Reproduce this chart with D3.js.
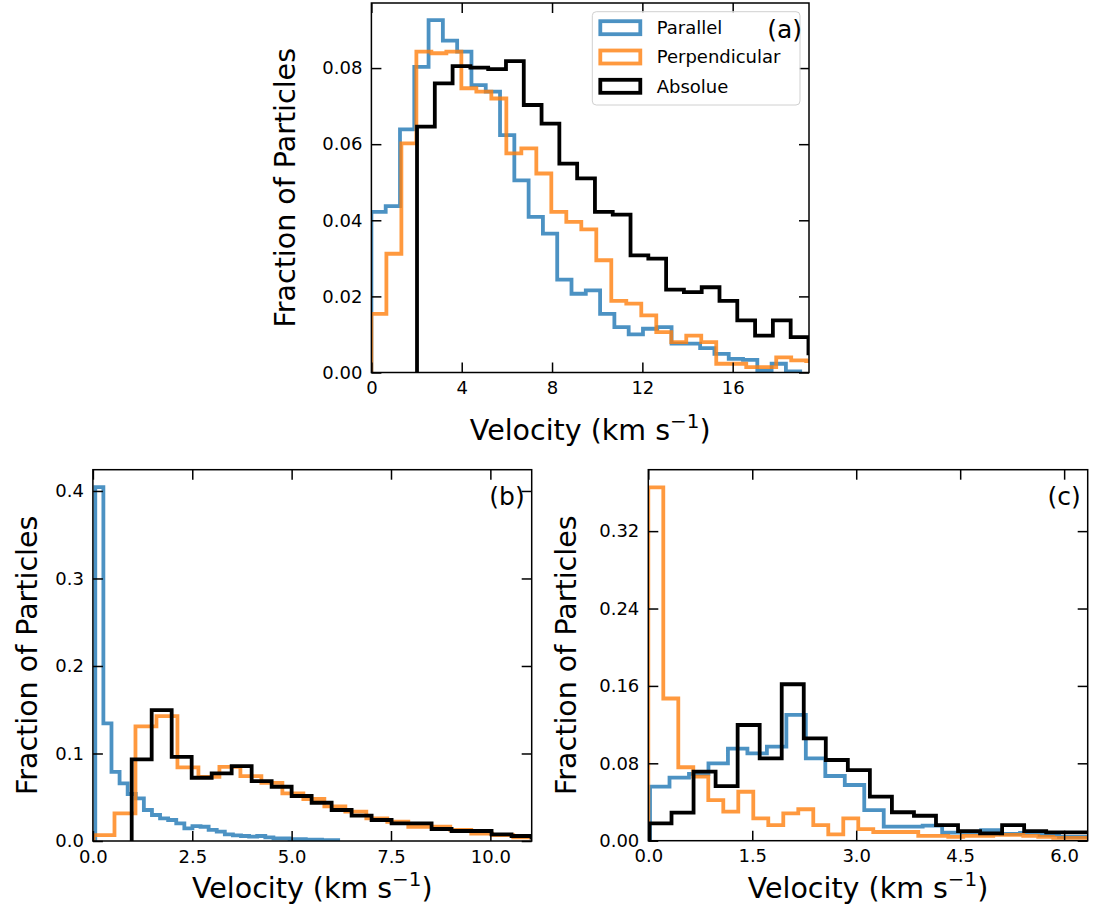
<!DOCTYPE html>
<html>
<head>
<meta charset="utf-8">
<script src="https://cdn.jsdelivr.net/npm/d3@7"></script>
<style>
  body { margin: 0; background: #fff; }
  svg { display: block; }
  text { font-family: "DejaVu Sans", sans-serif; fill: #000; }
</style>
</head>
<body>
<svg id="chart" width="1095" height="917"></svg>
<script>
// ---------------- data ----------------
// Each histogram: first bin edge, bin width (km/s), fraction of particles per bin.

// (a)
const aParallelStart = 0.0,  aParallelWidth = 0.633;
const aParallel = [0.0422,0.0437,0.0639,0.0803,0.0926,0.0872,0.0843,0.0755,0.0738,0.0624,
                   0.0505,0.0409,0.0365,0.0244,0.0207,0.0216,0.0154,0.0119,0.0100,0.0115,
                   0.0119,0.0076,0.0076,0.0064,0.0049,0.0036,0.0033,0.0005,0.0023,0.0003];
const aPerpStart = 0.0, aPerpWidth = 0.664;
const aPerp = [0.0154,0.0312,0.0602,0.0843,0.0839,0.0843,0.0747,0.0738,0.0720,0.0576,
               0.0589,0.0523,0.0422,0.0396,0.0376,0.0295,0.0188,0.0181,0.0150,0.0106,
               0.0080,0.0097,0.0080,0.0023,0.0023,0.0014,0.0014,0.0040,0.0032,0.0030];
const aAbsStart = 2.02, aAbsWidth = 0.788;
const aAbs = [0.0646,0.0760,0.0805,0.0801,0.0797,0.0818,0.0703,0.0654,0.0549,0.0510,
              0.0422,0.0415,0.0308,0.0299,0.0218,0.0211,0.0224,0.0188,0.0137,0.0097,
              0.0137,0.0093,0.0050];

// (b)
const bParallelStart = 0.06, bParallelWidth = 0.2037;
const bParallel = [0.4045,0.1344,0.0791,0.0659,0.0537,0.0487,0.0354,0.0297,0.0259,0.0240,
                   0.0202,0.0145,0.0171,0.0163,0.0126,0.0106,0.0076,0.0065,0.0057,0.0049,
                   0.0057,0.0042,0.0030,0.0030,0.0020,0.0020,0.0015,0.0015,0.0010,0.0010];
const bPerpStart = 0.015, bPerpWidth = 0.528;
const bPerp = [0.0068,0.0316,0.1310,0.1427,0.0841,0.0733,0.0848,0.0742,0.0665,0.0545,
               0.0480,0.0395,0.0335,0.0259,0.0220,0.0163,0.0163,0.0126,0.0084,0.0068,
               0.0042,0.0035];
const bAbsStart = 0.976, bAbsWidth = 0.503;
const bAbs = [0.0933,0.1495,0.0962,0.0723,0.0773,0.0856,0.0685,0.0620,0.0514,0.0437,
              0.0354,0.0289,0.0240,0.0202,0.0202,0.0137,0.0114,0.0114,0.0076,0.0057,
              0.0040];

// (c)
const cParallelStart = 0.025, cParallelWidth = 0.281;
const cParallel = [0.0558,0.0651,0.0690,0.0800,0.0951,0.0903,0.0972,0.1300,0.0852,0.0669,
                   0.0576,0.0317,0.0145,0.0145,0.0155,0.0083,0.0083,0.0110,0.0070,0.0080,
                   0.0060,0.0040,0.0040];
const cPerpStart = 0.0, cPerpWidth = 0.2164;
const cPerp = [0.3653,0.1470,0.0759,0.0662,0.0420,0.0300,0.0506,0.0231,0.0162,0.0283,
               0.0325,0.0162,0.0066,0.0231,0.0120,0.0090,0.0090,0.0090,0.0050,0.0050,
               0.0040,0.0050,0.0050,0.0060,0.0060,0.0050,0.0040,0.0030,0.0030,0.0030];
const cAbsStart = 0.017, cAbsWidth = 0.318;
const cAbs = [0.0180,0.0290,0.0713,0.0565,0.1196,0.0852,0.1617,0.1058,0.0834,0.0730,
              0.0455,0.0294,0.0258,0.0162,0.0100,0.0076,0.0162,0.0100,0.0087,0.0087,
              0.0060];

// axis ticks
const aXTicks = [0, 4, 8, 12, 16];
const aYTicks = [0, 0.02, 0.04, 0.06, 0.08];
const bXTicks = [0, 2.5, 5, 7.5, 10];
const bYTicks = [0, 0.1, 0.2, 0.3, 0.4];
const cXTicks = [0, 1.5, 3, 4.5, 6];
const cYTicks = [0, 0.08, 0.16, 0.24, 0.32];

const seriesNames = ["Parallel", "Perpendicular", "Absolue"];
const seriesColors = ["#1f77b4", "#ff7f0e", "#000000"];
const seriesOpacity = [0.8, 0.8, 1.0];

// ---------------- drawing ----------------
const svg = d3.select("#chart");
const TICK_FONT = 18, LABEL_FONT = 28.5, LEGEND_FONT = 18, TAG_FONT = 25;
const LINE_W = 3.8;

function stepPoints(start, width, values) {
  const pts = [[start, 0]];
  values.forEach((v, i) => {
    pts.push([start + i * width, v]);
    pts.push([start + (i + 1) * width, v]);
  });
  pts.push([start + values.length * width, 0]);
  return pts;
}

const tagLayer = [];

function drawPanel(p) {
  const x = d3.scaleLinear().domain([0, p.xMax]).range([p.left, p.right]);
  const y = d3.scaleLinear().domain([0, p.yMax]).range([p.bottom, p.top]);
  const g = svg.append("g");

  const clipId = "clip-" + p.tag;
  svg.append("defs").append("clipPath").attr("id", clipId)
    .append("rect")
    .attr("x", p.left).attr("y", p.top)
    .attr("width", p.right - p.left).attr("height", p.bottom - p.top);

  const line = d3.line().x(d => x(d[0])).y(d => y(d[1]));
  const plot = g.append("g").attr("clip-path", `url(#${clipId})`);
  p.series.forEach((s, i) => {
    plot.append("path")
      .attr("d", line(stepPoints(s.start, s.width, s.values)))
      .attr("fill", "none")
      .attr("stroke", seriesColors[i])
      .attr("stroke-opacity", seriesOpacity[i])
      .attr("stroke-width", LINE_W)
      .attr("stroke-linejoin", "miter");
  });

  const tickLen = 10;
  const styleAxis = sel => {
    sel.select(".domain").remove();
    sel.selectAll(".tick line").attr("stroke", "#000").attr("stroke-width", 1.5);
    sel.selectAll(".tick text").attr("font-size", TICK_FONT)
      .attr("font-family", '"DejaVu Sans", sans-serif').attr("fill", "#000");
  };

  g.append("g").attr("transform", `translate(0,${p.bottom})`)
    .call(d3.axisBottom(x).tickValues(p.xTicks).tickFormat(p.xFmt)
      .tickSizeInner(-tickLen).tickSizeOuter(0).tickPadding(9))
    .call(styleAxis);
  g.append("g").attr("transform", `translate(0,${p.top})`)
    .call(d3.axisTop(x).tickValues(p.xTicks).tickFormat("")
      .tickSizeInner(-tickLen).tickSizeOuter(0))
    .call(styleAxis);
  g.append("g").attr("transform", `translate(${p.left},0)`)
    .call(d3.axisLeft(y).tickValues(p.yTicks).tickFormat(p.yFmt)
      .tickSizeInner(-tickLen).tickSizeOuter(0).tickPadding(9))
    .call(styleAxis);
  g.append("g").attr("transform", `translate(${p.right},0)`)
    .call(d3.axisRight(y).tickValues(p.yTicks).tickFormat("")
      .tickSizeInner(-tickLen).tickSizeOuter(0))
    .call(styleAxis);

  // frame
  g.append("rect")
    .attr("x", p.left).attr("y", p.top)
    .attr("width", p.right - p.left).attr("height", p.bottom - p.top)
    .attr("fill", "none").attr("stroke", "#000").attr("stroke-width", 1.5);

  // axis titles
  const xl = g.append("text")
    .attr("x", (p.left + p.right) / 2).attr("y", p.xLabelY)
    .attr("text-anchor", "middle").attr("font-size", LABEL_FONT);
  xl.append("tspan").text("Velocity (km s");
  xl.append("tspan").attr("font-size", LABEL_FONT * 0.7).attr("dy", -LABEL_FONT * 0.42).text("\u22121");
  xl.append("tspan").attr("dy", LABEL_FONT * 0.42).text(")");

  g.append("text")
    .attr("transform", `translate(${p.yLabelX},${(p.top + p.bottom) / 2}) rotate(-90)`)
    .attr("text-anchor", "middle").attr("font-size", LABEL_FONT)
    .text("Fraction of Particles");

  tagLayer.push({ x: p.right - 7, y: p.top + 35, text: `(${p.tag})` });
  return { x, y, g };
}

const fmt2 = d3.format(".2f"), fmt1 = d3.format(".1f"), fmt0 = d3.format("d");

drawPanel({
  tag: "a", left: 371.4, right: 809, top: 3, bottom: 372.5,
  xMax: 19.38, yMax: 0.0971, xTicks: aXTicks, yTicks: aYTicks,
  xFmt: fmt0, yFmt: fmt2, xLabelY: 440, yLabelX: 295,
  series: [
    { start: aParallelStart, width: aParallelWidth, values: aParallel },
    { start: aPerpStart, width: aPerpWidth, values: aPerp },
    { start: aAbsStart, width: aAbsWidth, values: aAbs }
  ]
});

drawPanel({
  tag: "b", left: 92.9, right: 531.7, top: 469.7, bottom: 841,
  xMax: 11.04, yMax: 0.4243, xTicks: bXTicks, yTicks: bYTicks,
  xFmt: fmt1, yFmt: fmt1, xLabelY: 898, yLabelX: 37,
  series: [
    { start: bParallelStart, width: bParallelWidth, values: bParallel },
    { start: bPerpStart, width: bPerpWidth, values: bPerp },
    { start: bAbsStart, width: bAbsWidth, values: bAbs }
  ]
});

drawPanel({
  tag: "c", left: 648.3, right: 1087.7, top: 469.7, bottom: 840.7,
  xMax: 6.34, yMax: 0.3835, xTicks: cXTicks, yTicks: cYTicks,
  xFmt: fmt1, yFmt: fmt2, xLabelY: 898, yLabelX: 576,
  series: [
    { start: cParallelStart, width: cParallelWidth, values: cParallel },
    { start: cPerpStart, width: cPerpWidth, values: cPerp },
    { start: cAbsStart, width: cAbsWidth, values: cAbs }
  ]
});

// legend (panel a)
const leg = svg.append("g").attr("transform", "translate(592.3,11.7)");
leg.append("rect")
  .attr("width", 207.7).attr("height", 93.3).attr("rx", 4)
  .attr("fill", "#fff").attr("fill-opacity", 0.8)
  .attr("stroke", "#d0d0d0").attr("stroke-width", 1);
seriesNames.forEach((name, i) => {
  const cy = 16 + i * 29.3;
  leg.append("rect")
    .attr("x", 8).attr("y", cy - 6.5).attr("width", 40).attr("height", 13)
    .attr("fill", "none").attr("stroke", seriesColors[i])
    .attr("stroke-opacity", seriesOpacity[i]).attr("stroke-width", LINE_W);
  leg.append("text")
    .attr("x", 64.4).attr("y", cy).attr("dy", "0.36em")
    .attr("font-size", LEGEND_FONT).text(name);
});

// panel tags on top of everything
svg.append("g").selectAll("text").data(tagLayer).join("text")
  .attr("x", d => d.x).attr("y", d => d.y)
  .attr("text-anchor", "end").attr("font-size", TAG_FONT)
  .text(d => d.text);
</script>
</body>
</html>
